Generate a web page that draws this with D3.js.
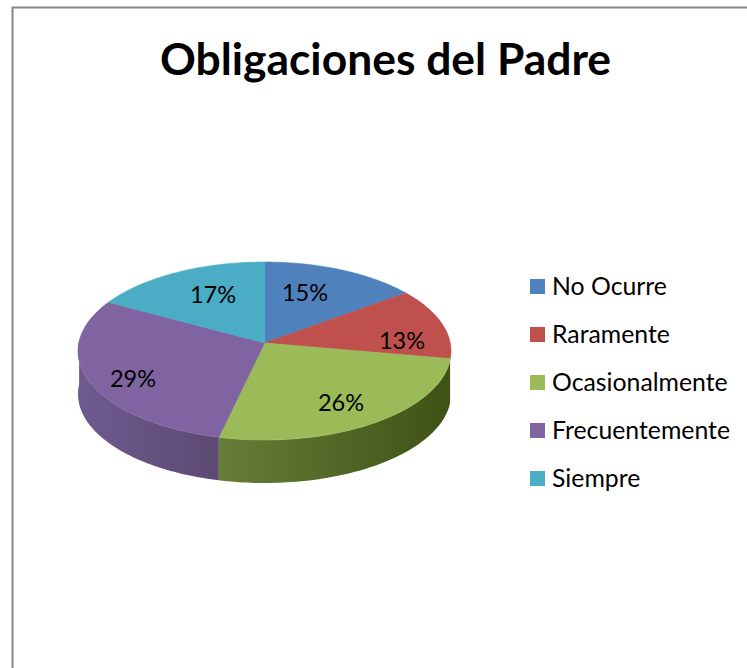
<!DOCTYPE html>
<html>
<head>
<meta charset="utf-8">
<style>
    html, body { margin: 0; padding: 0; background: #fff; overflow: hidden; }
    text { font-family: Lato, Carlito, sans-serif; fill: #000; }
</style>
</head>
<body>
<div id="chart"></div>
<script src="https://cdn.jsdelivr.net/npm/d3@7/dist/d3.min.js"></script>
<script>
'use strict';

var titleText  = 'Obligaciones del Padre';
var categories = ['No Ocurre', 'Raramente', 'Ocasionalmente', 'Frecuentemente', 'Siempre'];
var percents   = [14.8, 13, 25.8, 29.4, 17];
var colors     = ['#4f81bd', '#c0504d', '#9bbb59', '#8064a2', '#4bacc6'];
var wallLight  = ['#3b618e', '#90403c', '#667d38', '#6f5a90', '#38819a'];
var wallDark   = ['#2c4a6c', '#6d2e2b', '#3f5216', '#5c4a72', '#2a6173'];

function chart()
{
    var scope = this;
    var exports = {};

    scope.width  = 747;
    scope.height = 668;
    scope.depth  = 43;
    scope.hubOffset = -0.09;   // hub sits above the rim centre, the disc is seen in perspective

    scope.xScale = d3.scaleLinear().domain([-1, 1]).range([78, 451]);
    scope.yScale = d3.scaleLinear().domain([-1, 1]).range([262, 440]);

    // clockwise angle from the top of the disc -> unit coordinates of the rim
    scope.rim = function(a, r)
    {
        var b = scope.hubOffset;
        var u = r * Math.sin(a);
        var v = -r * Math.cos(a);
        var den = 1 + b * v;
        return [u * Math.sqrt(1 - b * b) / den, (v + b) / den];
    }

    scope.samples = function(a0, a1)
    {
        var n = Math.max(2, Math.ceil((a1 - a0) / 0.02));
        return d3.range(n + 1).map(function(i){ return a0 + (a1 - a0) * i / n; });
    }

    scope.appendFrame = function(svg)
    {
        svg.append('path')
            .attr('d', 'M12.5,' + scope.height + 'V7.5H' + scope.width)
            .attr('fill', 'none')
            .attr('stroke', '#868686')
            .attr('stroke-width', 2);
    }

    scope.appendTitle = function(svg)
    {
        svg.append('text')
            .attr('x', 385.5)
            .attr('y', 75)
            .attr('text-anchor', 'middle')
            .attr('font-size', 44.4)
            .attr('font-weight', 700)
            .text(titleText);
    }

    scope.appendPie = function(svg)
    {
        var arcs = d3.pie().sort(null)(percents);
        var defs = svg.append('defs');
        var line = d3.line()
            .x(function(p){ return scope.xScale(p[0]); })
            .y(function(p){ return scope.yScale(p[1]); });

        // walls, only the part of the rim facing the viewer
        var front0 = Math.PI * 0.56;
        var front1 = Math.PI * 1.5 + 0.02;
        var g = svg.append('g');

        arcs.forEach(function(d, i)
        {
            var a0 = Math.max(d.startAngle, front0);
            var a1 = Math.min(d.endAngle, front1);
            if (a1 <= a0) return;

            var pts = scope.samples(a0, a1).map(function(a){ return scope.rim(a, 1); });
            var top = line(pts);
            var bottom = line(pts.slice().reverse()
                .map(function(p){ return [p[0], p[1] + scope.yScale.invert(scope.yScale(0) + scope.depth)]; }));

            var x0 = scope.xScale(d3.min(pts, function(p){ return p[0]; }));
            var x1 = scope.xScale(d3.max(pts, function(p){ return p[0]; }));
            var grad = defs.append('linearGradient')
                .attr('id', 'wall' + i)
                .attr('gradientUnits', 'userSpaceOnUse')
                .attr('x1', x0).attr('x2', x1).attr('y1', 0).attr('y2', 0);
            grad.append('stop').attr('offset', 0).attr('stop-color', wallLight[i]);
            grad.append('stop').attr('offset', 1).attr('stop-color', wallDark[i]);

            g.append('path')
                .attr('d', top + 'L' + bottom.slice(1) + 'Z')
                .attr('fill', 'url(#wall' + i + ')');
        });

        // top face
        var hub = scope.rim(0, 0);
        g.selectAll('path.slice')
            .data(arcs)
            .enter()
            .append('path')
            .attr('class', 'slice')
            .attr('d', function(d){
                var pts = scope.samples(d.startAngle, d.endAngle).map(function(a){ return scope.rim(a, 1); });
                return line([hub].concat(pts)) + 'Z';
            })
            .attr('fill', function(d, i){ return colors[i]; })
            .attr('stroke', function(d, i){ return colors[i]; })
            .attr('stroke-width', 0.6);
    }

    scope.appendLabels = function(svg)
    {
        var spots = [[305, 293], [402, 341], [341, 403], [133, 379], [213, 295]];

        svg.selectAll('text.pct')
            .data(percents)
            .enter()
            .append('text')
            .attr('class', 'pct')
            .attr('x', function(d, i){ return spots[i][0]; })
            .attr('y', function(d, i){ return spots[i][1]; })
            .attr('dy', '0.35em')
            .attr('text-anchor', 'middle')
            .attr('font-size', 23.5)
            .text(function(d){ return Math.round(d) + '%'; });
    }

    scope.appendLegend = function(svg)
    {
        var yLegend = d3.scalePoint().domain(categories).range([286.5, 478.5]);

        var rows = svg.selectAll('g.row')
            .data(categories)
            .enter()
            .append('g')
            .attr('class', 'row')
            .attr('transform', function(d){ return 'translate(530,' + yLegend(d) + ')'; });

        rows.append('rect')
            .attr('x', 0)
            .attr('y', -7.5)
            .attr('width', 15)
            .attr('height', 15)
            .attr('fill', function(d, i){ return colors[i]; });

        rows.append('text')
            .attr('x', 22)
            .attr('dy', '0.35em')
            .attr('font-size', 24.8)
            .text(function(d){ return d; });
    }

    exports.run = function(div)
    {
        var svg = d3.select(div).append('svg')
            .attr('width', scope.width)
            .attr('height', scope.height)
            .style('display', 'block');

        scope.appendFrame(svg);
        scope.appendTitle(svg);
        scope.appendPie(svg);
        scope.appendLabels(svg);
        scope.appendLegend(svg);
    }

    return exports;
}

chart.call({}).run('#chart');
</script>
</body>
</html>
